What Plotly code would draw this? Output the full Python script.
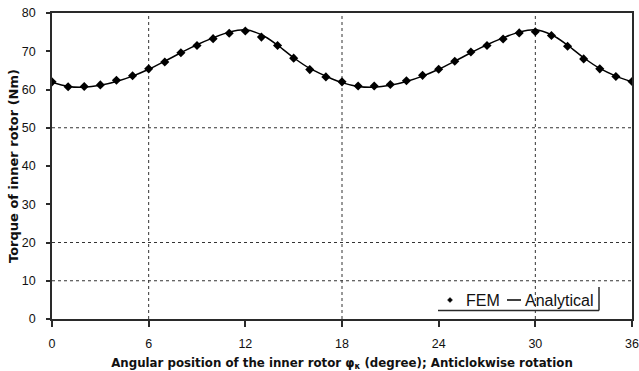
import plotly.graph_objects as go

# Rotor angle (degrees) and torque values (Nm)
angle_deg = list(range(0, 37))
fem_torque = [62.0, 60.7, 60.8, 61.2, 62.4, 63.6, 65.4, 67.2, 69.6, 71.5,
              73.3, 74.7, 75.3, 73.7, 71.5, 68.2, 65.2, 63.3, 62.0, 60.9,
              60.9, 61.3, 62.3, 63.7, 65.3, 67.4, 69.8, 71.5, 73.2, 74.8,
              75.1, 74.1, 71.3, 68.0, 65.4, 63.4, 62.1]
analytical_torque = [61.9, 60.8, 60.6, 61.1, 62.1, 63.5, 65.3, 67.4, 69.6, 71.7,
                     73.5, 75.0, 75.6, 74.3, 71.6, 68.3, 65.5, 63.5, 61.8, 60.8,
                     60.6, 61.1, 62.1, 63.5, 65.3, 67.4, 69.6, 71.7, 73.5, 75.0,
                     75.6, 74.3, 71.6, 68.3, 65.5, 63.5, 62.0]
x_ticks = [0, 6, 12, 18, 24, 30, 36]
y_ticks = [0, 10, 20, 30, 40, 50, 60, 70, 80]
# dotted reference lines
x_grid = [6, 18, 30]
y_grid = [10, 20, 50]

W, H = 639, 371
L, R, T, B = 52, 7, 13, 52
AX = "#2a2a2a"
FONT = "Liberation Sans, Arial, sans-serif"
BOLD_FONT = "DejaVu Sans, sans-serif"

def px(xp):
    return (xp - L) / (W - L - R)

def py(yp):
    return (H - B - yp) / (H - T - B)

fig = go.Figure()

for gx in x_grid:
    fig.add_shape(type="line", xref="x", yref="paper", x0=gx, x1=gx, y0=0, y1=1,
                  line=dict(color="#333", width=1, dash="dot"), layer="below")
for gy in y_grid:
    fig.add_shape(type="line", xref="paper", yref="y", x0=0, x1=1, y0=gy, y1=gy,
                  line=dict(color="#333", width=1, dash="dot"), layer="below")

fig.add_trace(go.Scatter(
    x=angle_deg, y=analytical_torque, mode="lines", name="Analytical",
    line=dict(color="black", width=1.5, shape="spline", smoothing=1.0),
))
fig.add_trace(go.Scatter(
    x=angle_deg, y=fem_torque, mode="markers", name="FEM",
    marker=dict(symbol="diamond", size=7, color="black"),
))

# legend drawn as text with a shadow-style frame
fig.add_shape(type="line", xref="paper", yref="paper",
              x0=px(438), x1=px(599), y0=py(310.5), y1=py(310.5),
              line=dict(color=AX, width=1.5))
fig.add_shape(type="line", xref="paper", yref="paper",
              x0=px(599), x1=px(599), y0=py(287), y1=py(310.5),
              line=dict(color=AX, width=1.5))
fig.add_shape(type="path", xref="paper", yref="paper",
              path=f"M {px(450)} {py(297.5)} L {px(452.5)} {py(300)} L {px(450)} {py(302.5)} L {px(447.5)} {py(300)} Z",
              fillcolor="black", line=dict(color="black", width=0.5))
fig.add_shape(type="line", xref="paper", yref="paper",
              x0=px(507), x1=px(521), y0=py(300), y1=py(300),
              line=dict(color="black", width=1.5))
fig.add_annotation(text="FEM", xref="paper", yref="paper", x=px(464), y=py(300),
                   xanchor="left", yanchor="middle", showarrow=False,
                   font=dict(family=FONT, size=16, color="#111"))
fig.add_annotation(text="Analytical", xref="paper", yref="paper", x=px(523), y=py(300),
                   xanchor="left", yanchor="middle", showarrow=False,
                   font=dict(family=FONT, size=16, color="#111"))

fig.update_layout(
    width=W, height=H, autosize=False,
    margin=dict(l=L, r=R, t=T, b=B),
    paper_bgcolor="white", plot_bgcolor="white",
    showlegend=False,
    font=dict(family=FONT, color="#111"),
)
fig.update_xaxes(
    range=[0, 36], tickvals=x_ticks, ticktext=[str(v) for v in x_ticks],
    showgrid=False, automargin=False,
    showline=True, linecolor=AX, linewidth=1.5, mirror=True,
    ticks="outside", ticklen=6, tickcolor=AX, tickwidth=1.5,
    tickfont=dict(family=FONT, size=12.5, color="#111"),
    ticklabelstandoff=6,
    zeroline=False,
    title=dict(text="Angular position of the inner rotor φ<sub>κ</sub> (degree); Anticlokwise rotation",
               font=dict(family=BOLD_FONT, size=11.8, color="#111", weight="bold"),
               standoff=11),
)
fig.update_yaxes(
    range=[0, 80], tickvals=y_ticks,
    showgrid=False, automargin=False,
    showline=True, linecolor=AX, linewidth=1.5, mirror=True,
    ticks="outside", ticklen=4, tickcolor=AX, tickwidth=1.5,
    tickfont=dict(family=FONT, size=12.5, color="#111"),
    ticklabelstandoff=8,
    zeroline=False,
    title=dict(text="Torque of inner rotor (Nm)",
               font=dict(family=BOLD_FONT, size=13, color="#111", weight="bold"),
               standoff=0),
)

fig.write_html("out.html")
